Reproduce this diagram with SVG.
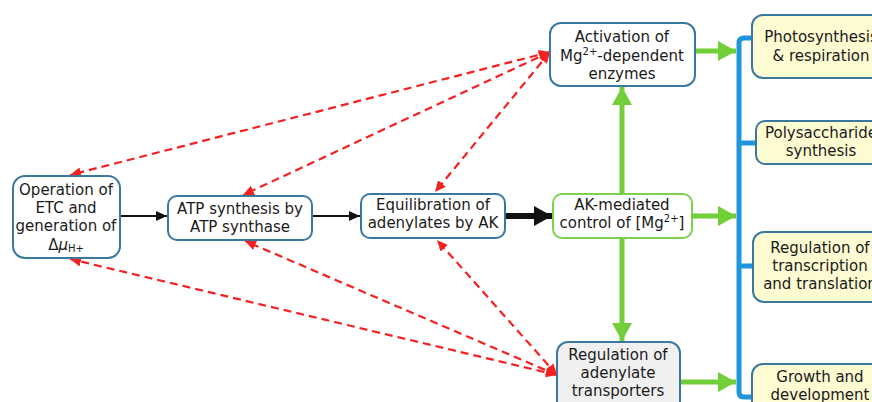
<svg xmlns="http://www.w3.org/2000/svg" width="872" height="402" viewBox="0 0 872 402">
<style>
text{font-family:"DejaVu Sans","Verdana",sans-serif;font-size:15px;fill:#1a1a1a;text-anchor:middle}
.n{fill:#fff;stroke:#3a78a0;stroke-width:2}
.g{fill:#fff;stroke:#7fd050;stroke-width:2}
.gr{fill:#f0f0f0;stroke:#3a78a0;stroke-width:2}
.y{fill:#fdfbd2;stroke:#3a78a0;stroke-width:2}
.red{fill:none;stroke:#f52020;stroke-width:2.2;stroke-dasharray:8 5;marker-start:url(#rs);marker-end:url(#re)}
.grn{fill:none;stroke:#72cf3a;stroke-width:5;marker-end:url(#ga)}
.blk{fill:none;stroke:#111;stroke-width:2;marker-end:url(#ba)}
.blue{fill:none;stroke:#1f96dc;stroke-width:5}
.sup{font-size:10px}
</style>
<defs>
<marker id="re" markerUnits="userSpaceOnUse" markerWidth="12" markerHeight="12" refX="11" refY="5" orient="auto"><path d="M0,0 L11,5 L0,10 z" fill="#f52020"/></marker>
<marker id="rs" markerUnits="userSpaceOnUse" markerWidth="12" markerHeight="12" refX="0" refY="5" orient="auto"><path d="M11,0 L0,5 L11,10 z" fill="#f52020"/></marker>
<marker id="ga" markerUnits="userSpaceOnUse" markerWidth="20" markerHeight="22" refX="18" refY="10" orient="auto"><path d="M0,0 L18,10 L0,20 z" fill="#72cf3a"/></marker>
<marker id="ba" markerUnits="userSpaceOnUse" markerWidth="12" markerHeight="12" refX="11" refY="5" orient="auto"><path d="M0,0 L11,5 L0,10 z" fill="#111"/></marker>
<marker id="bb" markerUnits="userSpaceOnUse" markerWidth="20" markerHeight="22" refX="18" refY="10" orient="auto"><path d="M0,0 L18,10 L0,20 z" fill="#111"/></marker>
</defs>

<g id="connectors">
<path class="blk" d="M120,216 L167,216"/>
<path class="blk" d="M312,216 L360,216"/>
<path d="M505,216 L552,216" fill="none" stroke="#111" stroke-width="6" marker-end="url(#bb)"/>
<path class="grn" d="M622,194 L622,87"/>
<path class="grn" d="M622,238 L622,341"/>
<path class="grn" d="M695,51 L736,51"/>
<path class="grn" d="M692,216 L736,216"/>
<path class="grn" d="M680,382 L736,382"/>
<path class="blue" d="M752,38 L744,38 Q739,38 739,43 L739,392 Q739,397 744,397 L752,397"/>
<path class="blue" d="M739,143 L756,143"/>
<path class="blue" d="M739,266 L753,266"/>
<path class="red" d="M550,52 L70,175"/>
<path class="red" d="M550,52 L243,195"/>
<path class="red" d="M550,52 L435,192"/>
<path class="red" d="M557,375 L70,259"/>
<path class="red" d="M557,375 L245,241"/>
<path class="red" d="M557,375 L437,240"/>
</g>

<g id="etc">
<rect class="n" x="13" y="176" width="107" height="82" rx="12"/>
<text x="66" y="195">Operation of</text>
<text x="66" y="213">ETC and</text>
<text x="66" y="231">generation of</text>
<text x="66" y="250">Δ<tspan font-style="italic">μ</tspan><tspan class="sup" dy="2">H+</tspan></text>
</g>

<g id="atp">
<rect class="n" x="168" y="196" width="144" height="44" rx="9"/>
<text x="240" y="214">ATP synthesis by</text>
<text x="240" y="232">ATP synthase</text>
</g>

<g id="equil">
<rect class="n" x="361" y="194" width="144" height="44" rx="9"/>
<text x="433" y="210">Equilibration of</text>
<text x="433" y="228">adenylates by AK</text>
</g>

<g id="ak">
<rect class="g" x="553" y="194" width="139" height="44" rx="9"/>
<text x="622" y="210">AK-mediated</text>
<text x="622" y="228">control of [Mg<tspan class="sup" dy="-6">2+</tspan><tspan dy="6">]</tspan></text>
</g>

<g id="activation">
<rect class="n" x="550" y="23" width="145" height="63" rx="11"/>
<text x="622" y="42">Activation of</text>
<text x="622" y="61">Mg<tspan class="sup" dy="-6">2+</tspan><tspan dy="6">-dependent</tspan></text>
<text x="622" y="79">enzymes</text>
</g>

<g id="transporters">
<rect class="gr" x="557" y="342" width="123" height="70" rx="11"/>
<text x="618" y="360">Regulation of</text>
<text x="618" y="378">adenylate</text>
<text x="618" y="396">transporters</text>
</g>

<g id="photo">
<rect class="y" x="752" y="15" width="140" height="63" rx="11"/>
<text x="821" y="42">Photosynthesis</text>
<text x="821" y="61">&amp; respiration</text>
</g>

<g id="poly">
<rect class="y" x="756" y="121" width="140" height="43" rx="9"/>
<text x="821" y="138">Polysaccharide</text>
<text x="821" y="156">synthesis</text>
</g>

<g id="transcription">
<rect class="y" x="753" y="232" width="140" height="70" rx="11"/>
<text x="820" y="253">Regulation of</text>
<text x="820" y="271">transcription</text>
<text x="820" y="289">and translation</text>
</g>

<g id="growth">
<rect class="y" x="752" y="364" width="140" height="50" rx="11"/>
<text x="820" y="382">Growth and</text>
<text x="820" y="400">development</text>
</g>
</svg>
